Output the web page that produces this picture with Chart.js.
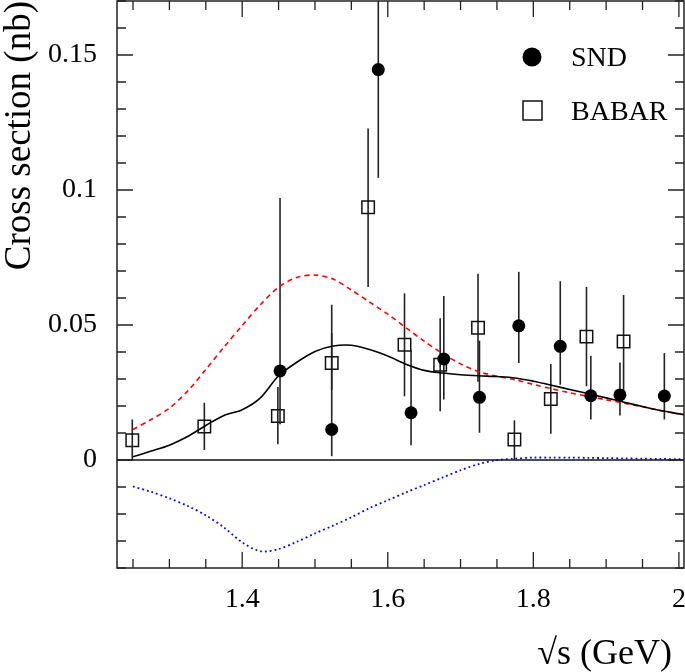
<!DOCTYPE html>
<html>
<head>
<meta charset="utf-8">
<script src="https://cdn.jsdelivr.net/npm/chart.js@4.4.1/dist/chart.umd.min.js"></script>
<style>
  html, body { margin: 0; padding: 0; background: #fff; }
  #wrap { width: 685px; height: 672px; }
</style>
</head>
<body>
<div id="wrap"><canvas id="xsChart" width="685" height="672"></canvas></div>
<script>
// SND points (energy in GeV, cross section in nb, error bar ends)
var sndX  = [1.452, 1.523, 1.587, 1.632, 1.677, 1.726, 1.780, 1.837, 1.879, 1.919, 1.980];
var sndY  = [0.033, 0.0113, 0.1446, 0.0175, 0.0374, 0.0232, 0.0497, 0.0421, 0.0238, 0.0241, 0.0237];
var sndLo = [0.0132, 0.0014, 0.1045, 0.0055, 0.0224, 0.0101, 0.0359, 0.0279, 0.015, 0.0165, 0.015];
var sndHi = [0.097, 0.0575, 0.19, 0.0408, 0.0607, 0.0442, 0.0697, 0.0662, 0.0386, 0.0361, 0.0396];

// BABAR points
var babarX  = [1.249, 1.348, 1.449, 1.523, 1.573, 1.623, 1.672, 1.724, 1.774, 1.824, 1.873, 1.924];
var babarY  = [0.0073, 0.0124, 0.0163, 0.0359, 0.0936, 0.0427, 0.0353, 0.049, 0.0076, 0.0226, 0.0457, 0.0439];
var babarLo = [0.0, 0.0037, 0.0058, 0.026, 0.0641, 0.0236, 0.0181, 0.029, 0.0, 0.0097, 0.0273, 0.026];
var babarHi = [0.015, 0.0212, 0.027, 0.047, 0.1228, 0.0617, 0.0525, 0.069, 0.0147, 0.0356, 0.0641, 0.0611];

// model curves
var curveX = [1.25, 1.275, 1.30, 1.325, 1.35, 1.375, 1.40, 1.425, 1.45, 1.475, 1.50, 1.525, 1.55, 1.575, 1.60,
              1.625, 1.65, 1.675, 1.70, 1.725, 1.75, 1.775, 1.80, 1.825, 1.85, 1.875, 1.90, 1.925, 1.95, 1.975, 2.0, 2.007];
var redY   = [0.0113, 0.015, 0.0192, 0.0255, 0.0335, 0.0418, 0.0498, 0.0575, 0.064, 0.0676, 0.0685, 0.067, 0.063, 0.0585, 0.054,
              0.049, 0.044, 0.0395, 0.0356, 0.0327, 0.031, 0.0297, 0.028, 0.0264, 0.0249, 0.0236, 0.0223, 0.021, 0.0197, 0.0183, 0.0171, 0.0168];
var blackY = [0.0012, 0.0033, 0.0055, 0.0087, 0.0128, 0.0165, 0.0186, 0.023, 0.0312, 0.0362, 0.0402, 0.0422, 0.0425, 0.0409, 0.0385,
              0.0355, 0.0332, 0.0322, 0.0316, 0.0312, 0.0309, 0.0304, 0.0292, 0.0277, 0.0261, 0.0246, 0.023, 0.0214, 0.0198, 0.0183, 0.0171, 0.0168];
var blueY  = [-0.0098, -0.0118, -0.0142, -0.017, -0.0205, -0.025, -0.0305, -0.0338, -0.033, -0.0303, -0.0272, -0.0243, -0.0212, -0.0178, -0.0149,
              -0.012, -0.0093, -0.0065, -0.0038, -0.0015, 0.0, 0.0005, 0.0009, 0.0009, 0.0009, 0.0008, 0.0007, 0.0006, 0.0005, 0.0004, 0.0003, 0.0003];

// axes
var xMin = 1.228, xMax = 2.007;
var yMin = -0.04, yMax = 0.17;
var xTicks = [1.4, 1.6, 1.8, 2.0];
var yTicks = [0, 0.05, 0.1, 0.15];

var serif = "'Liberation Serif', 'DejaVu Serif', serif";

function pts(xs, ys) {
    return xs.map(function (x, i) { return { x: x, y: ys[i] }; });
}

var decorPlugin = {
    id: 'decor',
    beforeDatasetsDraw: function (chart) {
        var ctx = chart.ctx, xs = chart.scales.x, ys = chart.scales.y, a = chart.chartArea;
        ctx.save();
        ctx.beginPath();
        ctx.rect(a.left, a.top, a.right - a.left, a.bottom - a.top);
        ctx.clip();
        // zero line
        ctx.strokeStyle = '#111';
        ctx.lineWidth = 1.5;
        ctx.beginPath();
        ctx.moveTo(a.left, ys.getPixelForValue(0));
        ctx.lineTo(a.right, ys.getPixelForValue(0));
        ctx.stroke();
        // error bars
        ctx.strokeStyle = '#222';
        ctx.lineWidth = 1.6;
        function bars(bx, lo, hi) {
            for (var i = 0; i < bx.length; i++) {
                var px = xs.getPixelForValue(bx[i]);
                ctx.beginPath();
                ctx.moveTo(px, ys.getPixelForValue(lo[i]));
                ctx.lineTo(px, ys.getPixelForValue(hi[i]));
                ctx.stroke();
            }
        }
        bars(babarX, babarLo, babarHi);
        bars(sndX, sndLo, sndHi);
        ctx.restore();
    },
    afterDraw: function (chart) {
        var ctx = chart.ctx, xs = chart.scales.x, ys = chart.scales.y, a = chart.chartArea;
        ctx.save();
        ctx.strokeStyle = '#222';
        ctx.lineWidth = 1.5;
        ctx.strokeRect(a.left, a.top, a.right - a.left, a.bottom - a.top);

        // ticks pointing in, all four sides
        var v, p, len;
        ctx.lineWidth = 1.3;
        for (v = 1.25; v <= 2.0001; v += 0.05) {
            p = xs.getPixelForValue(v);
            len = Math.abs(v * 10 - Math.round(v * 10)) < 0.01 && Math.round(v * 10) % 2 === 0 ? 16 : 9;
            ctx.beginPath();
            ctx.moveTo(p, a.bottom); ctx.lineTo(p, a.bottom - len);
            ctx.moveTo(p, a.top); ctx.lineTo(p, a.top + len);
            ctx.stroke();
        }
        for (var k = -4; k <= 17; k++) {
            v = k / 100;
            p = ys.getPixelForValue(v);
            len = (k % 5 === 0) ? 16 : 9;
            ctx.beginPath();
            ctx.moveTo(a.left, p); ctx.lineTo(a.left + len, p);
            ctx.moveTo(a.right, p); ctx.lineTo(a.right - len, p);
            ctx.stroke();
        }

        // axis titles
        ctx.fillStyle = '#000';
        ctx.font = '36px ' + serif;
        ctx.textAlign = 'right';
        ctx.textBaseline = 'alphabetic';
        ctx.fillText('\u221As (GeV)', 672, 664);
        ctx.save();
        ctx.font = '37px ' + serif;
        ctx.translate(30, 1);
        ctx.rotate(-Math.PI / 2);
        ctx.textAlign = 'right';
        ctx.fillText('Cross section (nb)', 0, 0);
        ctx.restore();

        // legend
        ctx.font = '28px ' + serif;
        ctx.textAlign = 'left';
        ctx.fillStyle = '#000';
        ctx.beginPath();
        ctx.arc(532, 57, 9.5, 0, Math.PI * 2);
        ctx.fill();
        ctx.fillText('SND', 571, 66);
        ctx.lineWidth = 1.5;
        ctx.strokeStyle = '#111';
        ctx.strokeRect(523, 101, 19, 19);
        ctx.fillText('BABAR', 571, 120);
        ctx.restore();
    }
};

new Chart('xsChart', {
    type: 'scatter',
    data: {
        datasets: [
            {
                label: 'SND',
                data: pts(sndX, sndY),
                pointStyle: 'circle',
                pointRadius: 6.5,
                backgroundColor: '#000',
                borderWidth: 0
            },
            {
                label: 'BABAR',
                data: pts(babarX, babarY),
                pointStyle: 'rect',
                pointRadius: 8.8,
                backgroundColor: 'rgba(0,0,0,0)',
                borderColor: '#111',
                borderWidth: 1.5
            },
            {
                label: 'black',
                data: pts(curveX, blackY),
                showLine: true,
                pointRadius: 0,
                borderColor: '#000',
                borderWidth: 1.6,
                tension: 0.3
            },
            {
                label: 'red',
                data: pts(curveX, redY),
                showLine: true,
                pointRadius: 0,
                borderColor: '#ff0000',
                borderWidth: 1.6,
                borderDash: [5, 4],
                tension: 0.3
            },
            {
                label: 'blue',
                data: pts(curveX, blueY),
                showLine: true,
                pointRadius: 0,
                borderColor: '#0000ff',
                borderWidth: 1.8,
                borderDash: [1.8, 3],
                tension: 0.3
            }
        ]
    },
    options: {
        responsive: false,
        animation: false,
        devicePixelRatio: 1,
        layout: { autoPadding: false, padding: { top: 1, right: 1, left: 0, bottom: 0 } },
        plugins: {
            legend: { display: false },
            tooltip: { enabled: false }
        },
        scales: {
            x: {
                type: 'linear',
                min: xMin,
                max: xMax,
                grid: { display: false, drawTicks: false },
                border: { display: false },
                afterBuildTicks: function (scale) {
                    scale.ticks = xTicks.map(function (v) { return { value: v }; });
                },
                afterFit: function (scale) {
                    scale.height = 104;
                    scale.paddingLeft = 0;
                    scale.paddingRight = 0;
                },
                ticks: {
                    color: '#000',
                    padding: 15,
                    maxRotation: 0,
                    autoSkip: false,
                    font: { family: serif, size: 28 },
                    callback: function (v) { return String(Math.round(v * 10) / 10); }
                }
            },
            y: {
                type: 'linear',
                min: yMin,
                max: yMax,
                grid: { display: false, drawTicks: false },
                border: { display: false },
                afterBuildTicks: function (scale) {
                    scale.ticks = yTicks.map(function (v) { return { value: v }; });
                },
                afterFit: function (scale) {
                    scale.width = 117;
                    scale.paddingTop = 0;
                    scale.paddingBottom = 0;
                },
                ticks: {
                    color: '#000',
                    padding: 20,
                    autoSkip: false,
                    font: { family: serif, size: 28 },
                    callback: function (v) { return String(Math.round(v * 100) / 100); }
                }
            }
        }
    },
    plugins: [decorPlugin]
});
</script>
</body>
</html>
